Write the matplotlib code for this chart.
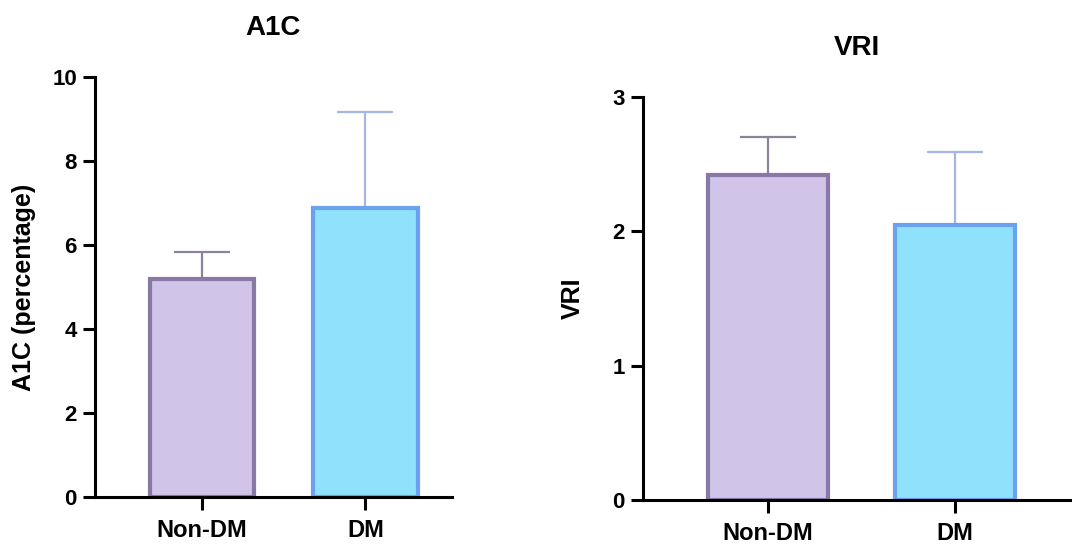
import numpy as np
import matplotlib
matplotlib.use("Agg")
from matplotlib import pyplot as plt

plt.rcParams['font.family'] = ['Liberation Sans', 'DejaVu Sans']
plt.rcParams['font.weight'] = 'bold'

groups = ["Non-DM", "DM"]
a1c_mean = [5.2, 6.87]
a1c_sd = [0.64, 2.3]
vri_mean = [2.42, 2.05]
vri_sd = [0.28, 0.54]

fill_colors = ["#d0c4e8", "#8fe1fc"]
edge_colors = ["#8878a6", "#6aa2f0"]
err_colors = ["#8c8299", "#a6b6e4"]

W, H = 1072, 544
fig = plt.figure(figsize=(W / 100, H / 100), dpi=100)


def draw_panel(rect, means, sds, ylim, yticks, title, ylabel, xlim, labelpad):
    ax = fig.add_axes([rect[0] / W, 1 - rect[3] / H, (rect[2] - rect[0]) / W,
                       (rect[3] - rect[1]) / H])
    x = np.arange(len(groups))
    for i in x:
        ax.errorbar(x[i], means[i], yerr=[[0], [sds[i]]], fmt='none',
                    ecolor=err_colors[i], elinewidth=1.6, capsize=20,
                    capthick=1.6, zorder=1)
        ax.bar(x[i], means[i], width=0.64, color=fill_colors[i],
               edgecolor=edge_colors[i], linewidth=3, zorder=2)
    ax.set_xlim(*xlim)
    ax.set_ylim(*ylim)
    ax.set_yticks(yticks)
    ax.set_xticks(x)
    ax.set_xticklabels(groups)
    for s in ['top', 'right']:
        ax.spines[s].set_visible(False)
    for s in ['left', 'bottom']:
        ax.spines[s].set_linewidth(2.2)
        ax.spines[s].set_zorder(3)
    ax.tick_params(width=2.2, length=9)
    ax.tick_params(axis='y', labelsize=16, pad=4)
    ax.tick_params(axis='x', labelsize=17, pad=7)
    ax.set_title(title, fontsize=20, fontweight='bold', pad=30)
    ax.set_ylabel(ylabel, fontsize=18, fontweight='bold', labelpad=labelpad)
    return ax


draw_panel((95, 77, 452, 497), a1c_mean, a1c_sd, (0, 10), [0, 2, 4, 6, 8, 10],
           "A1C", "A1C (percentage)", (-0.656, 1.53), 12)
draw_panel((643, 97, 1071, 500), vri_mean, vri_sd, (0, 3), [0, 1, 2, 3],
           "VRI", "VRI", (-0.67, 1.62), 20)

fig.savefig("out.png", dpi=100)
